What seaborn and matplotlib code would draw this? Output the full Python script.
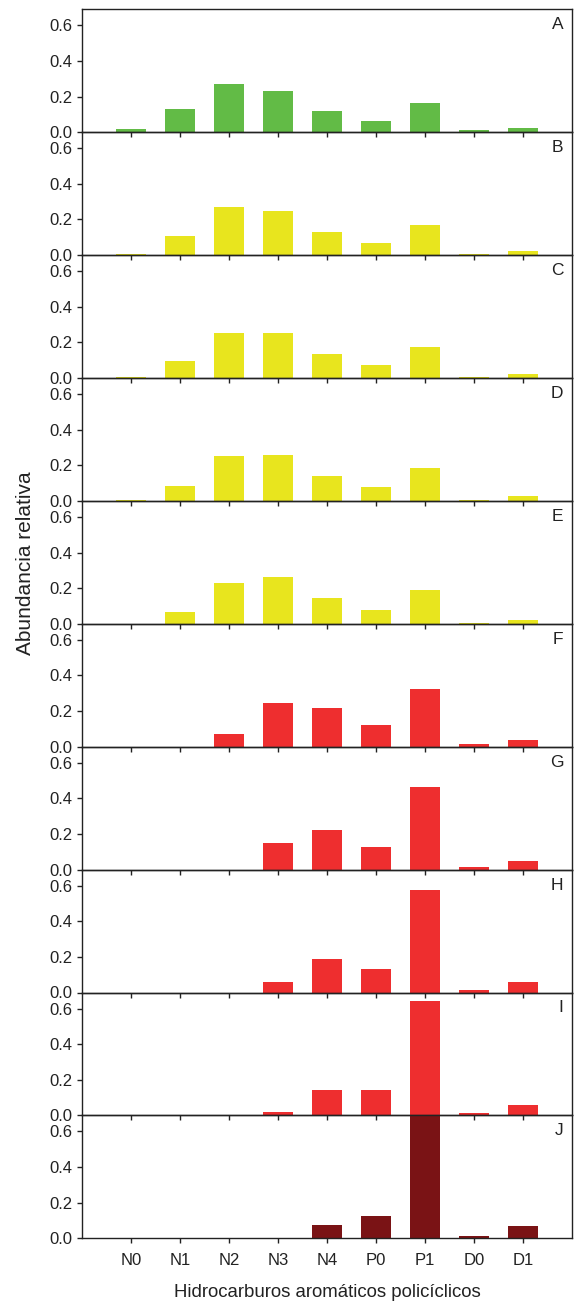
import matplotlib
matplotlib.use("Agg")
import matplotlib.pyplot as plt
import seaborn as sns
import pandas as pd

sns.set_theme(style="white")
plt.rcParams['font.family'] = ['Liberation Sans', 'DejaVu Sans']

categories = ["N0", "N1", "N2", "N3", "N4", "P0", "P1", "D0", "D1"]
panels = ["A", "B", "C", "D", "E", "F", "G", "H", "I", "J"]

vals_A = [0.020, 0.131, 0.272, 0.233, 0.120, 0.065, 0.163, 0.011, 0.026]
vals_B = [0.006, 0.105, 0.270, 0.245, 0.130, 0.070, 0.170, 0.005, 0.022]
vals_C = [0.006, 0.095, 0.255, 0.255, 0.135, 0.072, 0.175, 0.005, 0.022]
vals_D = [0.005, 0.085, 0.250, 0.260, 0.140, 0.077, 0.185, 0.005, 0.026]
vals_E = [0.000, 0.065, 0.230, 0.260, 0.145, 0.077, 0.190, 0.005, 0.022]
vals_F = [0.000, 0.000, 0.073, 0.246, 0.218, 0.122, 0.323, 0.013, 0.038]
vals_G = [0.000, 0.000, 0.000, 0.152, 0.225, 0.129, 0.463, 0.013, 0.047]
vals_H = [0.000, 0.000, 0.000, 0.058, 0.190, 0.133, 0.576, 0.015, 0.060]
vals_I = [0.000, 0.000, 0.000, 0.019, 0.145, 0.145, 0.641, 0.013, 0.060]
vals_J = [0.000, 0.000, 0.000, 0.000, 0.073, 0.125, 0.750, 0.011, 0.068]

all_vals = [vals_A, vals_B, vals_C, vals_D, vals_E, vals_F, vals_G, vals_H, vals_I, vals_J]

green = "#62BB46"
yellow = "#E8E51E"
red = "#EE2E2F"
darkred = "#7A1315"
panel_colors = [green, yellow, yellow, yellow, yellow, red, red, red, red, darkred]

fig = plt.figure(figsize=(5.74, 13.06), dpi=100)
left, right = 82 / 574, 572 / 574
top_px, bot_px = 9.3, 1238.3
n = len(panels)
h_px = (bot_px - top_px) / n

for i, (name, vals, col) in enumerate(zip(panels, all_vals, panel_colors)):
    y0 = 1 - (top_px + (i + 1) * h_px) / 1306
    ax = fig.add_axes([left, y0, right - left, h_px / 1306])
    df = pd.DataFrame({"cat": categories, "val": vals})
    sns.barplot(data=df, x="cat", y="val", color=col, width=0.63,
                saturation=1, ax=ax, linewidth=0, zorder=1)
    ax.set_xlim(-1.0, 9.0)
    ax.set_ylim(0, 0.69)
    ax.set_yticks([0.0, 0.2, 0.4, 0.6])
    ax.set_yticklabels(["0.0", "0.2", "0.4", "0.6"])
    ax.set_xlabel("")
    ax.set_ylabel("")
    for s in ax.spines.values():
        s.set_color("#222222")
        s.set_linewidth(1.0)
        s.set_zorder(5)
    ax.tick_params(axis="both", direction="out", length=3.5, width=1,
                   color="#222222", labelsize=12, labelcolor="#222222",
                   bottom=True, left=True)
    ax.tick_params(axis="y", pad=3.5)
    if i < n - 1:
        ax.tick_params(axis="x", labelbottom=False)
    else:
        ax.tick_params(axis="x", pad=7)
        ax.set_xlabel("Hidrocarburos aromáticos policíclicos", fontsize=13.4,
                      color="#222222", labelpad=11.5)
    ax.text(0.982, 0.935, name, transform=ax.transAxes, ha="right", va="top",
            fontsize=12.5, color="#222222")
    ax.patch.set_alpha(0)

fig.text(25.8 / 574, 1 - 563.5 / 1306, "Abundancia relativa", rotation=90,
         ha="center", va="center", fontsize=15, color="#222222")

fig.savefig("out.png", dpi=100)
